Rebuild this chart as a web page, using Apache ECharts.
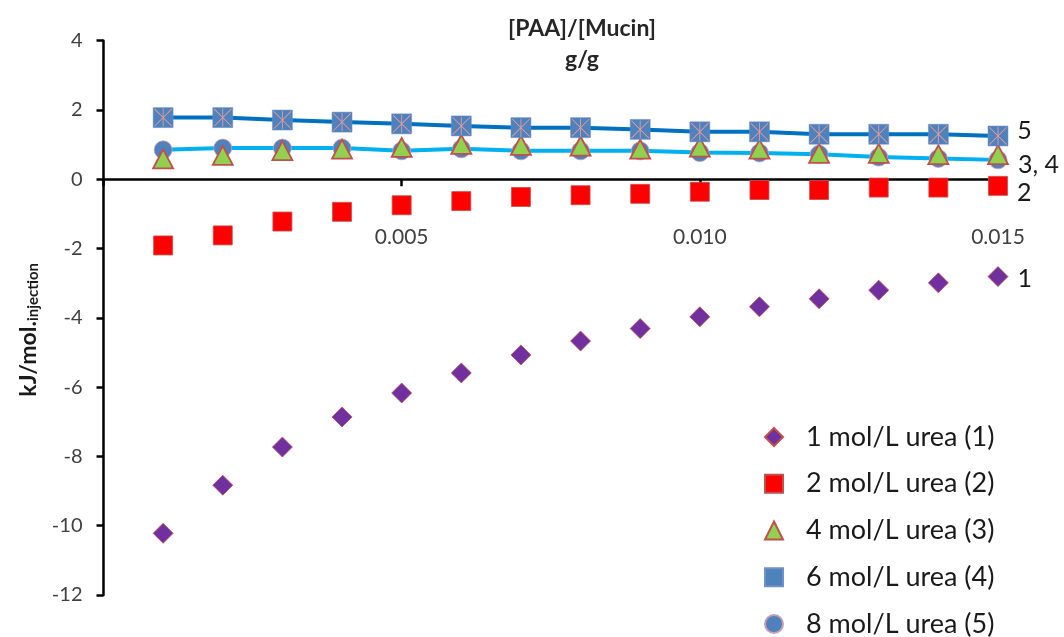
<!DOCTYPE html>
<html>
<head>
<meta charset="utf-8">
<script src="https://cdn.jsdelivr.net/npm/echarts@6/dist/echarts.min.js"></script>
<style>
  html, body { margin: 0; padding: 0; background: #ffffff; }
  #chart { width: 1064px; height: 637px; }
</style>
</head>
<body>
<div id="chart"></div>
<script>
// ---- data ----
const ratio = [0.001, 0.002, 0.003, 0.004, 0.005, 0.006, 0.007, 0.008, 0.009, 0.010, 0.011, 0.012, 0.013, 0.014, 0.015];
const urea1 = [-10.22, -8.83, -7.73, -6.86, -6.17, -5.59, -5.07, -4.67, -4.31, -3.97, -3.68, -3.45, -3.20, -2.99, -2.81];
const urea2 = [-1.91, -1.62, -1.22, -0.94, -0.75, -0.63, -0.51, -0.46, -0.42, -0.36, -0.31, -0.31, -0.24, -0.24, -0.19];
const urea4 = [0.59, 0.69, 0.83, 0.87, 0.92, 1.01, 0.98, 0.96, 0.87, 0.93, 0.87, 0.75, 0.75, 0.71, 0.71];
const urea6 = [1.78, 1.78, 1.71, 1.65, 1.60, 1.54, 1.49, 1.49, 1.44, 1.37, 1.37, 1.30, 1.30, 1.30, 1.25];
const urea8 = [0.85, 0.90, 0.90, 0.90, 0.82, 0.88, 0.82, 0.82, 0.82, 0.77, 0.76, 0.72, 0.64, 0.60, 0.56];
const seriesNames = ['1 mol/L urea (1)', '2 mol/L urea (2)', '4 mol/L urea (3)', '6 mol/L urea (4)', '8 mol/L urea (5)'];
const endLabels = ['1', '2', '3, 4', '5'];
const yTicks = { min: -12, max: 4, step: 2 };
const xTicks = { min: 0, max: 0.015, step: 0.005 };
const titleLines = ['[PAA]/[Mucin]', 'g/g'];

const pairs = ys => ratio.map((x, i) => [x, ys[i]]);
const FONT = 'Lato, "Liberation Sans", sans-serif';
const last = ratio.length - 1;
const endLabel = (text, offset) => ({
  show: true, position: 'right', distance: 9, offset: offset,
  fontFamily: FONT, fontSize: 25, color: '#1a1a1a',
  formatter: p => (p.dataIndex === last ? text : '')
});
const starPath = 'path://M9.5,0L10.5,0L10.5,20L9.5,20Z M0,0.7L0.7,0L20,19.3L19.3,20Z M19.3,0L20,0.7L0.7,20L0,19.3Z';

// layout
const H = 637, gridTop = 40.7, gridBottom = 42;
const gridH = H - gridTop - gridBottom;
// place the x axis (line, ticks and labels) at y = 0
const xAxisOffset = -gridH * (0 - yTicks.min) / (yTicks.max - yTicks.min);

const chart = echarts.init(document.getElementById('chart'), null, { renderer: 'canvas' });
chart.setOption({
  backgroundColor: '#ffffff',
  animation: false,
  textStyle: { fontFamily: FONT },
  grid: { left: 103.5, right: 66, top: gridTop, bottom: gridBottom, containLabel: false, outerBoundsMode: 'none' },
  graphic: [
    { type: 'text', x: 582, y: 29, style: { text: titleLines[0], fontFamily: FONT, fontSize: 23, fontWeight: 'bold', fill: '#262626', align: 'center', verticalAlign: 'middle' } },
    { type: 'text', x: 582, y: 60, style: { text: titleLines[1], fontFamily: FONT, fontSize: 23, fontWeight: 'bold', fill: '#262626', align: 'center', verticalAlign: 'middle' } }
  ],
  legend: {
    orient: 'vertical', left: 764, top: 423, height: 240, padding: 0,
    itemWidth: 18, itemHeight: 18, itemGap: 18.75,
    textStyle: { fontFamily: FONT, fontSize: 27, lineHeight: 28, color: '#1a1a1a', padding: [0, 0, 0, 18] },
    data: [
      { name: seriesNames[0], icon: 'diamond' },
      { name: seriesNames[1], icon: 'rect' },
      { name: seriesNames[2], icon: 'triangle' },
      { name: seriesNames[3], icon: 'rect' },
      { name: seriesNames[4], icon: 'circle' }
    ]
  },
  xAxis: {
    type: 'value', min: xTicks.min, max: xTicks.max, interval: xTicks.step,
    position: 'bottom', offset: xAxisOffset,
    axisLine: { onZero: false, lineStyle: { color: '#000000', width: 2.5 } },
    axisTick: { show: true, length: 7, lineStyle: { color: '#000000', width: 2.5 } },
    splitLine: { show: false },
    axisLabel: {
      margin: 47, fontFamily: FONT, fontSize: 21, color: '#404040',
      formatter: v => (v === 0 ? '' : v.toFixed(3))
    }
  },
  yAxis: {
    type: 'value', min: yTicks.min, max: yTicks.max, interval: yTicks.step,
    axisLine: { show: true, onZero: false, lineStyle: { color: '#000000', width: 2.5 } },
    axisTick: { show: true, length: 7, lineStyle: { color: '#000000', width: 2.5 } },
    splitLine: { show: false },
    axisLabel: { margin: 21, fontFamily: FONT, fontSize: 20, color: '#404040' },
    name: '{a|kJ/mol.}{b|injection}',
    nameLocation: 'middle', nameRotate: 90, nameGap: 59.5,
    nameTextStyle: {
      padding: [0, 24, 0, 0],
      rich: {
        a: { fontFamily: FONT, fontSize: 23, fontWeight: 'bold', color: '#1a1a1a', lineHeight: 28 },
        b: { fontFamily: FONT, fontSize: 15, fontWeight: 'bold', color: '#1a1a1a', lineHeight: 28, padding: [10, 0, 0, 0] }
      }
    }
  },
  series: [
    {
      name: seriesNames[0], type: 'scatter', data: pairs(urea1), symbol: 'diamond', symbolSize: 20, z: 3,
      itemStyle: { color: '#7030A0', borderColor: '#C0504D', borderWidth: 0.8, opacity: 1 },
      label: endLabel(endLabels[0], [0, 2])
    },
    {
      name: seriesNames[1], type: 'scatter', data: pairs(urea2), symbol: 'rect', symbolSize: 19, z: 3,
      itemStyle: { color: '#FF0000', borderColor: '#C0504D', borderWidth: 0.8, opacity: 1 },
      label: endLabel(endLabels[1], [0, 7])
    },
    {
      name: seriesNames[4], type: 'line', data: pairs(urea8), symbol: 'circle', symbolSize: 18, z: 2,
      lineStyle: { color: '#00B0F0', width: 4 },
      itemStyle: { color: '#4F81BD', borderColor: '#C9A0B0', borderWidth: 0.8, opacity: 1 }
    },
    {
      name: seriesNames[2], type: 'scatter', data: pairs(urea4), symbol: 'triangle', symbolSize: [20, 19], z: 4,
      itemStyle: { color: '#92D050', borderColor: '#C0504D', borderWidth: 1.8, opacity: 1 },
      label: endLabel(endLabels[2], [0, 10])
    },
    {
      name: seriesNames[3], type: 'line', data: pairs(urea6), symbol: 'rect', symbolSize: 20, z: 4,
      lineStyle: { color: '#0070C0', width: 4 },
      itemStyle: { color: '#4F81BD', borderColor: '#6F90C8', borderWidth: 0.5, opacity: 1 },
      label: endLabel(endLabels[3], [0, -5])
    },
    {
      name: seriesNames[3] + ' *', type: 'scatter', data: pairs(urea6), symbol: starPath, symbolSize: 18, z: 5,
      silent: true, itemStyle: { color: '#E49A9A', opacity: 1 }
    }
  ]
});
</script>
</body>
</html>
